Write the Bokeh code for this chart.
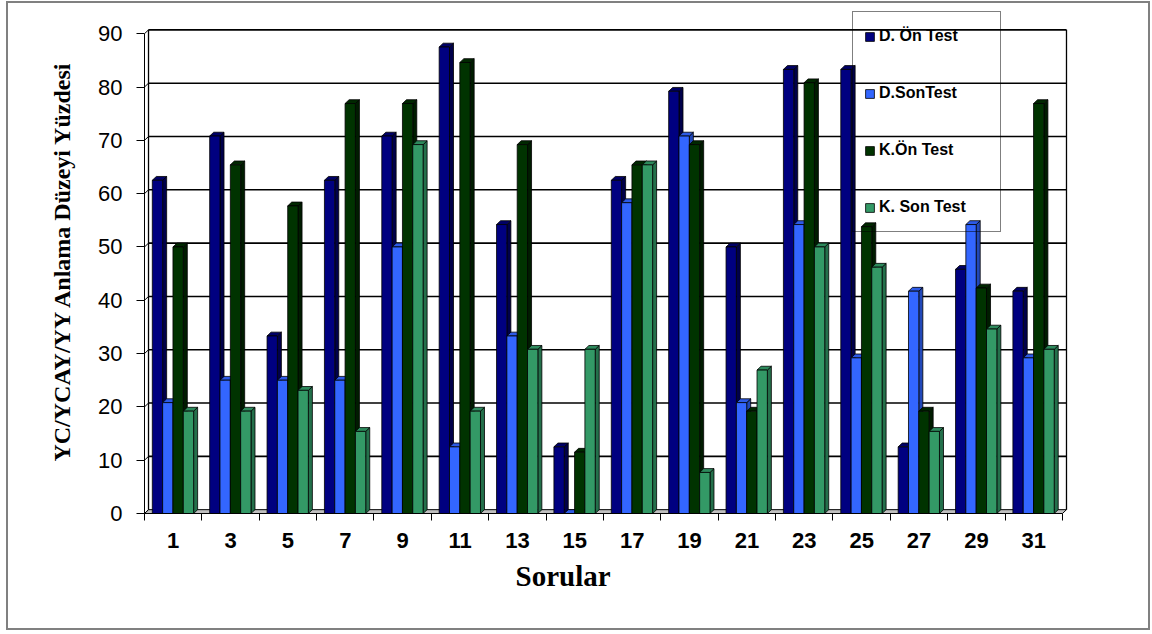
import numpy as np
from bokeh.plotting import figure
from bokeh.models import Range1d, FixedTicker, Legend, LegendItem, Title
from bokeh.embed import file_html
from bokeh.resources import INLINE

questions = ["1", "3", "5", "7", "9", "11", "13", "15", "17", "19", "21", "23", "25", "27", "29", "31"]
d_on_test = [62.5, 70.8, 33.3, 62.5, 70.8, 87.5, 54.2, 12.5, 62.5, 79.2, 50.0, 83.3, 83.3, 12.5, 45.8, 41.7]
d_son_test = [20.8, 25.0, 25.0, 25.0, 50.0, 12.5, 33.3, 0.0, 58.3, 70.8, 20.8, 54.2, 29.2, 41.7, 54.2, 29.2]
k_on_test = [50.0, 65.4, 57.7, 76.9, 76.9, 84.6, 69.2, 11.5, 65.4, 69.2, 19.2, 80.8, 53.8, 19.2, 42.3, 76.9]
k_son_test = [19.2, 19.2, 23.1, 15.4, 69.2, 19.2, 30.8, 30.8, 65.4, 7.7, 26.9, 50.0, 46.2, 15.4, 34.6, 30.8]
series_names = ["D. Ön Test", "D.SonTest", "K.Ön Test", "K. Son Test"]
y_ticks = [0, 10, 20, 30, 40, 50, 60, 70, 80, 90]

series = [d_on_test, d_son_test, k_on_test, k_son_test]
front_colors = ["#000080", "#3366FF", "#003300", "#339966"]
side_colors = ["#00004a", "#2248b8", "#001c00", "#24704b"]
top_colors = ["#000066", "#2d5ae6", "#002800", "#2d8a5c"]

n = len(questions)
PXX = 920 / (n + 0.105)
PXY = 476 / 90.0
DX = 4 / PXX
DY = 3.8 / PXY
W = 0.18

p = figure(width=1144, height=629,
           x_range=Range1d(-0.5, n - 0.5 + 0.105),
           y_range=Range1d(0, 501 / PXY),
           output_backend="svg", toolbar_location=None,
           min_border_left=136, min_border_right=84,
           min_border_top=5, min_border_bottom=119)
p.outline_line_color = None
p.xgrid.visible = False
p.ygrid.visible = False
p.background_fill_color = "white"
p.border_fill_color = "white"
p.styles = {"border": "2px solid #808080", "margin-left": "6px", "margin-top": "1px"}

xs0 = -0.5
xs1 = n - 0.5
top_v = y_ticks[-1]

# floor
p.patch([xs0, xs1, xs1 + DX, xs0 + DX], [0, 0, DY, DY],
        fill_color="#c0c0c0", line_color="black", line_width=1)

# back wall gridlines
for v in y_ticks[1:]:
    p.segment(x0=[xs0 + DX], y0=[v + DY], x1=[xs1 + DX], y1=[v + DY],
              line_color="black", line_width=1.6)
p.segment(x0=[xs0] * len(y_ticks), y0=y_ticks,
          x1=[xs0 + DX] * len(y_ticks), y1=[v + DY for v in y_ticks],
          line_color="black", line_width=1)
p.segment(x0=[xs0 + DX, xs1 + DX], y0=[DY, DY], x1=[xs0 + DX, xs1 + DX],
          y1=[top_v + DY, top_v + DY], line_color="black", line_width=1.3)

x = np.arange(n)
renderers = []
for s, vals in enumerate(series):
    v = np.array(vals, dtype=float)
    xc = x + (s - 1.5) * W - 0.004
    xl = xc - W / 2
    xr = xc + W / 2
    side_xs = [[r, r + DX, r + DX, r] for r in xr]
    side_ys = [[0, DY, h + DY, h] for h in v]
    top_xs = [[l, r, r + DX, l + DX] for l, r in zip(xl, xr)]
    top_ys = [[h, h, h + DY, h + DY] for h in v]
    p.patches(side_xs, side_ys, fill_color=side_colors[s], line_color="black", line_width=0.8)
    p.patches(top_xs, top_ys, fill_color=top_colors[s], line_color="black", line_width=0.8)
    r = p.vbar(x=xc, top=v, bottom=0, width=W, fill_color=front_colors[s],
               line_color="black", line_width=0.8)
    renderers.append(r)

# axes
p.xaxis.ticker = FixedTicker(ticks=list(range(n)), minor_ticks=[k - 0.5 for k in range(n + 1)])
p.xaxis.major_label_overrides = {i: q for i, q in enumerate(questions)}
p.xaxis.bounds = (xs0, xs1)
p.xaxis.major_tick_out = 0
p.xaxis.major_tick_in = 0
p.xaxis.minor_tick_out = 7
p.xaxis.minor_tick_in = 0
p.xaxis.minor_tick_line_color = "black"
p.xaxis.axis_line_color = "black"
p.xaxis.major_label_standoff = 12
p.xaxis.major_label_text_font = "Liberation Sans"
p.xaxis.major_label_text_font_style = "bold"
p.xaxis.major_label_text_font_size = "22px"
p.xaxis.major_label_text_color = "black"

p.yaxis.ticker = FixedTicker(ticks=y_ticks, minor_ticks=[])
p.yaxis.bounds = (0, top_v)
p.yaxis.major_tick_out = 8
p.yaxis.major_tick_in = 0
p.yaxis.major_tick_line_color = "black"
p.yaxis.axis_line_color = "black"
p.yaxis.major_label_standoff = 14
p.yaxis.major_label_text_font = "Liberation Sans"
p.yaxis.major_label_text_font_size = "22px"
p.yaxis.major_label_text_color = "black"
p.yaxis.axis_label = "YC/YCAY/YY Anlama Düzeyi Yüzdesi"
p.yaxis.axis_label_standoff = 20
p.yaxis.axis_label_text_font = "Liberation Serif"
p.yaxis.axis_label_text_font_style = "bold"
p.yaxis.axis_label_text_font_size = "24px"
p.yaxis.axis_label_text_color = "black"

p.add_layout(Title(text="Sorular", align="left", offset=371, standoff=14,
                   text_font="Liberation Serif", text_font_style="bold",
                   text_font_size="29px", text_color="black"), "below")

legend = Legend(items=[LegendItem(label=nm, renderers=[r]) for nm, r in zip(series_names, renderers)],
                location=(708, 281), orientation="vertical",
                background_fill_alpha=0, border_line_color="black", border_line_width=1,
                label_text_font="Liberation Sans", label_text_font_style="bold",
                label_text_font_size="16px", label_text_color="black",
                glyph_width=11, glyph_height=11, label_height=26, label_width=110,
                spacing=31, padding=11, label_standoff=4, margin=0)
p.add_layout(legend)

open("out.html", "w").write(file_html(p, INLINE))
